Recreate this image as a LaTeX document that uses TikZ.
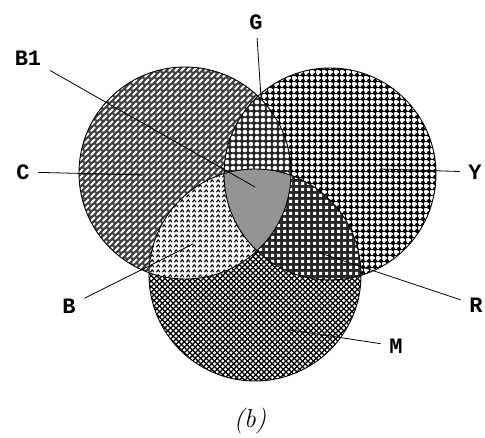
\documentclass[tikz,border=0pt]{standalone}
\usepackage{fontspec}
\newfontfamily\lblfont{Liberation Mono}
\usetikzlibrary{patterns}

% fill textures of the three circles and their overlaps
\pgfdeclarepatternformonly{cdash}{\pgfqpoint{-1pt}{-1pt}}{\pgfqpoint{7pt}{7pt}}{\pgfqpoint{6pt}{6pt}}{%
  \pgfsetlinewidth{2.1pt}\pgfsetroundcap
  \pgfpathmoveto{\pgfqpoint{1pt}{1pt}}\pgfpathlineto{\pgfqpoint{4.6pt}{4.6pt}}
  \pgfusepath{stroke}}
\pgfdeclarepatternformonly{ydots}{\pgfqpoint{-1pt}{-1pt}}{\pgfqpoint{7pt}{7pt}}{\pgfqpoint{6pt}{6pt}}{%
  \pgfpathcircle{\pgfqpoint{3pt}{3pt}}{2.1pt}\pgfusepath{fill}
  \pgfsetlinewidth{0.8pt}
  \pgfpathmoveto{\pgfqpoint{0pt}{3pt}}\pgfpathlineto{\pgfqpoint{6pt}{3pt}}
  \pgfpathmoveto{\pgfqpoint{3pt}{0pt}}\pgfpathlineto{\pgfqpoint{3pt}{6pt}}
  \pgfusepath{stroke}}
\pgfdeclarepatternformonly{mhatch}{\pgfqpoint{-1pt}{-1pt}}{\pgfqpoint{6.5pt}{6.5pt}}{\pgfqpoint{5.5pt}{5.5pt}}{%
  \pgfsetlinewidth{1.3pt}
  \pgfpathmoveto{\pgfqpoint{0pt}{0pt}}\pgfpathlineto{\pgfqpoint{5.5pt}{5.5pt}}
  \pgfpathmoveto{\pgfqpoint{0pt}{5.5pt}}\pgfpathlineto{\pgfqpoint{5.5pt}{0pt}}
  \pgfusepath{stroke}}
\pgfdeclarepatternformonly{gholes}{\pgfqpoint{0pt}{0pt}}{\pgfqpoint{6.4pt}{6.4pt}}{\pgfqpoint{6.4pt}{6.4pt}}{%
  \pgfpathcircle{\pgfqpoint{3.2pt}{3.2pt}}{2.5pt}\pgfusepath{fill}}
\pgfdeclarepatternformonly{bzig}{\pgfqpoint{-1pt}{-1pt}}{\pgfqpoint{7pt}{6pt}}{\pgfqpoint{6pt}{5pt}}{%
  \pgfsetlinewidth{1.1pt}
  \pgfpathmoveto{\pgfqpoint{0.6pt}{1pt}}\pgfpathlineto{\pgfqpoint{2.2pt}{3.2pt}}
  \pgfpathlineto{\pgfqpoint{3.8pt}{1pt}}
  \pgfusepath{stroke}}
\pgfdeclarepatternformonly{rholes}{\pgfqpoint{0pt}{0pt}}{\pgfqpoint{6pt}{6pt}}{\pgfqpoint{6pt}{6pt}}{%
  \pgfpathrectangle{\pgfqpoint{1.3pt}{1.3pt}}{\pgfqpoint{3.4pt}{3.4pt}}\pgfusepath{fill}}

\begin{document}
\begin{tikzpicture}[x=1pt,y=1pt,line join=round,line cap=round,
  rim/.style={draw=black,line width=0.9pt},
  lbl/.style={font=\lblfont\bfseries\fontsize{22}{22}\selectfont,inner sep=1pt,outer sep=8pt},
  lead/.style={line width=0.8pt}]
  \useasboundingbox[fill=white] (0,0) rectangle (485,438);
  \coordinate (Cc) at (185,265);
  \coordinate (Yc) at (330,264);
  \coordinate (Mc) at (255,163);
  \def\rad{106}

  % the three circles
  \fill[black!75] (Cc) circle (\rad);
  \fill[pattern=cdash,pattern color=white] (Cc) circle (\rad);
  \fill[white] (Yc) circle (\rad);
  \fill[pattern=ydots] (Yc) circle (\rad);
  \fill[white] (Mc) circle (\rad);
  \fill[pattern=mhatch] (Mc) circle (\rad);

  % overlaps
  \begin{scope}
    \clip (Cc) circle (\rad);
    \fill[black!85] (Yc) circle (\rad);
    \fill[pattern=gholes,pattern color=white] (Yc) circle (\rad);
    \fill[white] (Mc) circle (\rad);
    \fill[pattern=bzig] (Mc) circle (\rad);
  \end{scope}
  \begin{scope}
    \clip (Yc) circle (\rad);
    \fill[black!85] (Mc) circle (\rad);
    \fill[pattern=rholes,pattern color=white] (Mc) circle (\rad);
    \clip (Cc) circle (\rad);
    \fill[black!42] (Mc) circle (\rad);
  \end{scope}
  \draw[rim] (Cc) circle (\rad) (Yc) circle (\rad) (Mc) circle (\rad);

  % labels and leaders
  \node[lbl] (lG) at (256,416) {G};
  \node[lbl] (lB1) at (28,380) {B1};
  \node[lbl] (lC) at (23,266) {C};
  \node[lbl] (lY) at (475,266) {Y};
  \node[lbl] (lR) at (476,133) {R};
  \node[lbl] (lM) at (396,92) {M};
  \node[lbl] (lB) at (69,132) {B};
  \coordinate (pG) at (261,341);
  \coordinate (pB1) at (255,251);
  \coordinate (pC) at (143,263);
  \coordinate (pY) at (380,269);
  \coordinate (pR) at (320,185);
  \coordinate (pM) at (290,108);
  \coordinate (pB) at (193,194);
  \draw[lead] (lG) -- (pG);
  \draw[lead] (lB1) -- (pB1);
  \draw[lead] (lC) -- (pC);
  \draw[lead] (lY) -- (pY);
  \draw[lead] (lR) -- (pR);
  \draw[lead] (lM) -- (pM);
  \draw[lead] (lB) -- (pB);

  \node[font=\fontsize{26}{26}\selectfont] (cap) at (250,17) {\textit{(b)}};
\end{tikzpicture}
\end{document}
